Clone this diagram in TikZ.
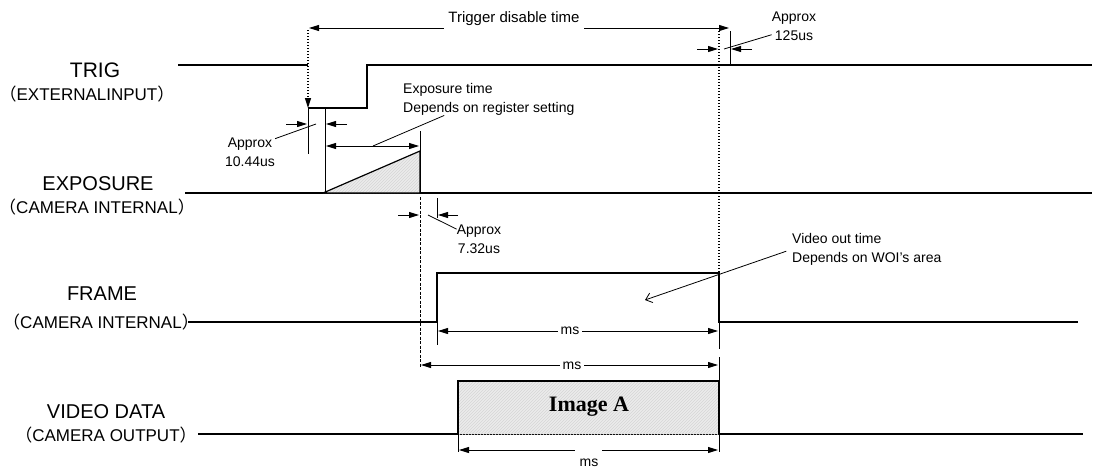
\documentclass[tikz,border=0pt]{standalone}
\usepackage{fontspec}
\setmainfont{Liberation Sans}
\newfontfamily\cjk{Noto Sans CJK JP}
\newfontfamily\serifbold{Liberation Serif}
\usetikzlibrary{arrows.meta, patterns}

\newcommand{\jlp}{{\cjk （}}
\newcommand{\jrp}{{\cjk ）}}

\tikzstyle{wave} = [line width=1.2pt]
\tikzstyle{tickline} = [line width=1pt]
\tikzstyle{guide} = [line width=0.6pt, dash pattern=on 3pt off 1.5pt]
\tikzstyle{dots} = [line width=1.4pt, dash pattern=on 1.4pt off 1.6pt]
\tikzstyle{dim} = [line width=0.9pt]
\tikzstyle{lead} = [line width=0.8pt]
\tikzstyle{sig} = [font=\fontsize{20}{24}\selectfont, inner sep=0pt]
\tikzstyle{sub} = [font=\fontsize{17}{20}\selectfont, inner sep=0pt]
\tikzstyle{note} = [font=\fontsize{14}{19}\selectfont, inner sep=0pt, align=center]
\tikzstyle{ms} = [font=\fontsize{14}{17}\selectfont, fill=white, inner xsep=3pt, inner ysep=1pt]
\tikzstyle{hatch} = [preaction={fill=gray!16}, pattern=north east lines, pattern color=gray!32]

\begin{document}
\begin{tikzpicture}[x=1pt, y=-1pt, >={Triangle[length=10pt,width=6pt]}]
\useasboundingbox (0,0) rectangle (1093,471);

% signal names
\node (trig) [sig, font=\fontsize{21}{24}\selectfont, anchor=base] at (95,77) {TRIG};
\node (trigsub) [sub, anchor=base] at (87,100) {\jlp EXTERNALINPUT\jrp};
\node (expo) [sig, anchor=base] at (98,190) {EXPOSURE};
\node (exposub) [sub, anchor=base] at (97,213) {\jlp CAMERA INTERNAL\jrp};
\node (frame) [sig, anchor=base] at (102,300) {FRAME};
\node (framesub) [sub, anchor=base] at (101,328) {\jlp CAMERA INTERNAL\jrp};
\node (video) [sig, anchor=base] at (106,418) {VIDEO DATA};
\node (videosub) [sub, anchor=base] at (106,441) {\jlp CAMERA OUTPUT\jrp};

% TRIG
\draw[wave] (178,65) -- (308,65);
\draw[wave] (308,108) -- (367,108) -- (367,65) -- (1092,65);
\draw[dots, ->] (308,30) -- (308,108);

% trigger disable time
\draw[dim, <->] (309,28) -- (729,28);
\node (tdis) [font=\fontsize{15}{18}\selectfont, fill=white, inner xsep=4pt, inner ysep=3pt, anchor=base] at (514,23) {Trigger disable time};
\draw[dots] (719,28) -- (719,273);

% approx 125us
\draw[tickline] (730,31) -- (730,66);
\draw[dim, ->] (697,49) -- (718,49);
\draw[dim, ->] (752,49) -- (731,49);
\node (n125) [note, anchor=north] at (794,12) {Approx\\125us};
\draw[lead] (724,49) -- (n125.-160);

% approx 10.44us
\draw[tickline] (308,108) -- (308,154);
\draw[dim, ->] (286,124) -- (307,124);
\draw[dim, ->] (347,124) -- (326,124);
\node (n10) [note, anchor=north] at (250,138) {Approx\\10.44us};
\draw[lead] (316,124) -- (n10.29);

% EXPOSURE
\draw[wave] (185,193) -- (1092,193);
\draw[wave, hatch] (323,193) -- (420,151) -- (420,193) -- cycle;
\draw[tickline] (325,108) -- (325,193);
\draw[tickline] (420,131) -- (420,193);
\draw[dim, <->] (326,146) -- (419,146);
\node (nexp) [note, align=left, anchor=north west] at (403,83) {Exposure time\\Depends on register setting};
\draw[lead] (373,146) -- (nexp.-160);

% approx 7.32us
\draw[guide] (420,197) -- (420,368);
\draw[tickline] (437,198) -- (437,218);
\draw[dim, ->] (398,215) -- (419,215);
\draw[dim, ->] (458,215) -- (438,215);
\node (n732) [note, anchor=north] at (479,225) {Approx\\7.32us};
\draw[lead] (428,215) -- (n732.155);

% FRAME
\draw[wave] (188,322) -- (437,322) -- (437,273) -- (719,273) -- (719,322) -- (1078,322);
\draw[tickline] (437,322) -- (437,345);
\draw[tickline] (719,322) -- (719,349);
\draw[dim, <->] (438,331) -- (718,331);
\node (ms1) [ms] at (570,331) {ms};
\draw[tickline] (719,357) -- (719,452);
\draw[dim, <->] (421,365) -- (718,365);
\node (ms2) [ms] at (572,366) {ms};

% video out time
\coordinate (woi) at (645,300);
\node (nvid) [note, align=left, anchor=north west] at (792,233) {Video out time\\Depends on WOI's area};
\draw[lead, shorten <=6pt, -{Straight Barb[length=6pt,width=10pt]}] (nvid.west) -- (woi);

% VIDEO DATA
\draw[wave] (198,434) -- (1083,434);
\draw[wave, hatch] (458,434) -- (458,381) -- (719,381) -- (719,434);
\node (imga) [font=\serifbold\bfseries\fontsize{22}{24}\selectfont] at (589,407) {Image A};
\draw[tickline] (458,434) -- (458,452);
\draw[dim, <-] (459,450) -- (575,450);
\draw[dim, ->] (602,450) -- (718,450);
\node (ms3) [font=\fontsize{14}{17}\selectfont] at (589,463) {ms};

\end{tikzpicture}
\end{document}
